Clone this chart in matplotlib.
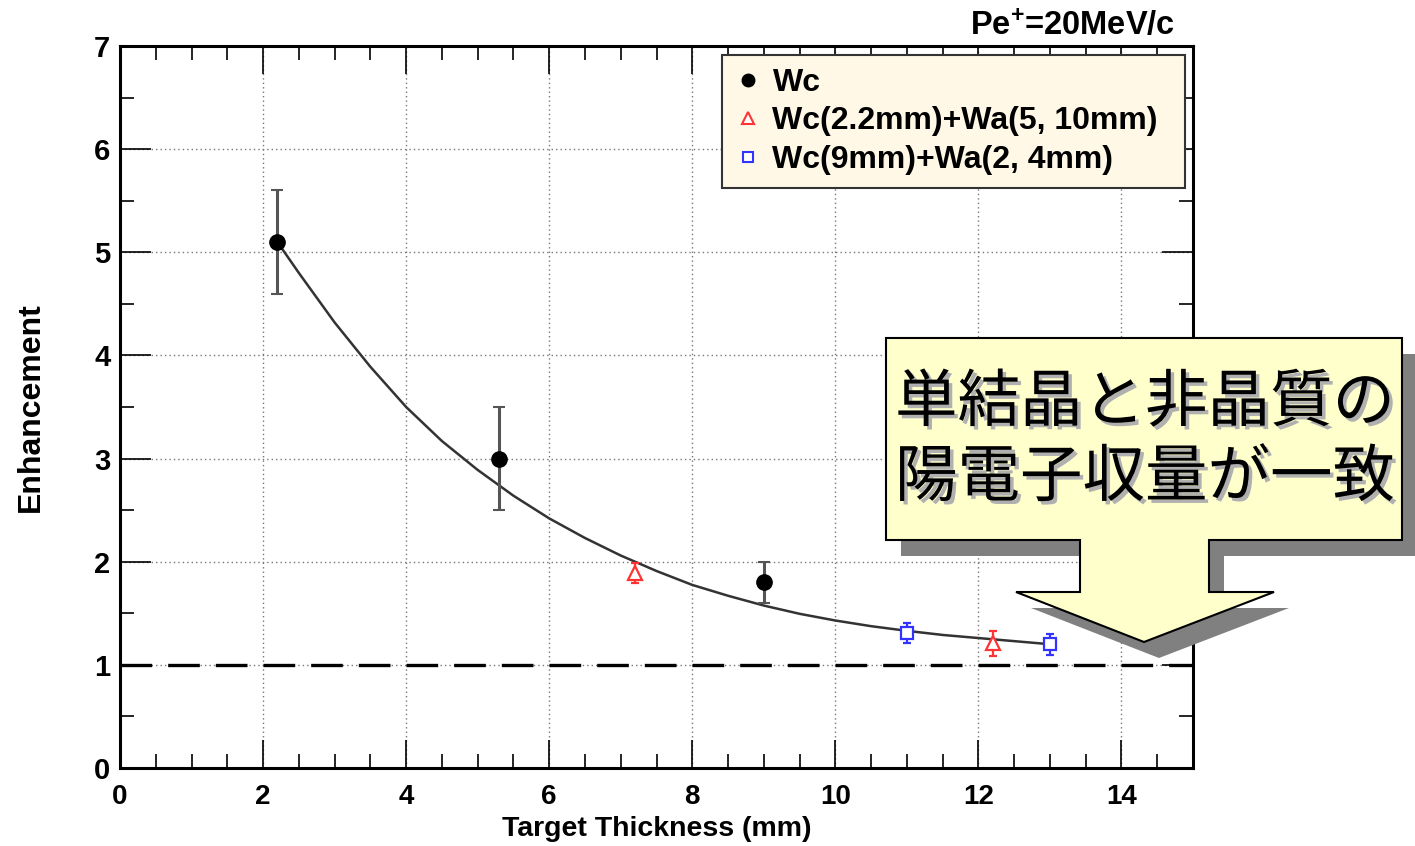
import matplotlib
matplotlib.use("Agg")
import matplotlib.pyplot as plt
from matplotlib.patches import Polygon
from matplotlib.lines import Line2D
from matplotlib.ticker import MultipleLocator
from matplotlib.font_manager import FontProperties
import matplotlib.patheffects as pe

plt.rcParams["mathtext.fontset"] = "custom"
plt.rcParams["mathtext.rm"] = "Liberation Sans:bold"
plt.rcParams["mathtext.bf"] = "Liberation Sans:bold"
plt.rcParams["mathtext.it"] = "Liberation Sans:bold"

# ---------------- data ----------------
wc_x = [2.2, 5.3, 9.0]
wc_y = [5.1, 3.0, 1.8]
wc_err = [0.5, 0.5, 0.2]

wca_x = [7.2, 12.2]
wca_y = [1.89, 1.21]
wca_err = [0.1, 0.12]

wc9_x = [11.0, 13.0]
wc9_y = [1.31, 1.20]
wc9_err = [0.1, 0.1]

fit_x = [2.2, 2.5, 3.0, 3.5, 4.0, 4.5, 5.0, 5.5, 6.0, 6.5, 7.0, 7.5, 8.0, 8.5,
         9.0, 9.5, 10.0, 10.5, 11.0, 11.5, 12.0, 12.5, 13.0]
fit_y = [5.10, 4.80, 4.32, 3.89, 3.50, 3.17, 2.89, 2.64, 2.42, 2.23, 2.06, 1.91,
         1.775, 1.67, 1.575, 1.495, 1.43, 1.375, 1.33, 1.29, 1.26, 1.23, 1.20]

labels = ["Wc", "Wc(2.2mm)+Wa(5, 10mm)", "Wc(9mm)+Wa(2, 4mm)"]
ref_level = 1.0
x_label = "Target Thickness (mm)"
y_label = "Enhancement"
corner_text = "Pe$^{+}$=20MeV/c"
callout_lines = ["単結晶と非晶質の", "陽電子収量が一致"]

# ---------------- figure ----------------
W, H = 1415, 846
fig = plt.figure(figsize=(W / 100, H / 100), dpi=100)
fig.patch.set_facecolor("white")

def fx(px):
    return px / W

def fy(py):
    return 1 - py / H

ax = fig.add_axes([fx(120), fy(768), fx(1193) - fx(120), fy(46) - fy(768)])
ax.set_xlim(0, 15)
ax.set_ylim(0, 7)

bold = dict(family="Liberation Sans", weight="bold")

ax.xaxis.set_major_locator(MultipleLocator(2))
ax.xaxis.set_minor_locator(MultipleLocator(0.5))
ax.yaxis.set_major_locator(MultipleLocator(1))
ax.yaxis.set_minor_locator(MultipleLocator(0.5))
ax.grid(True, which="major", color="#777777", linestyle=(0, (1, 2.2)), linewidth=1.0)
ax.set_axisbelow(True)

ax.tick_params(which="both", direction="in", top=True, right=True, color="black")
ax.tick_params(which="major", length=20, width=1.2)
ax.tick_params(which="minor", length=10, width=1.2)
ax.tick_params(axis="y", which="major", length=22, pad=7)
ax.tick_params(axis="x", which="major", pad=11.8)
for s in ax.spines.values():
    s.set_linewidth(2.2)

xtickfont = FontProperties(**bold, size=20)
ytickfont = FontProperties(**bold, size=21)
for lab in ax.get_xticklabels():
    lab.set_fontproperties(xtickfont)
for lab in ax.get_yticklabels():
    lab.set_fontproperties(ytickfont)

ax.set_xlabel(x_label, fontsize=20.5, **bold)
ax.xaxis.set_label_coords(0.5, -0.0658)
ax.set_ylabel(y_label, fontsize=23, **bold)
ax.yaxis.set_label_coords(-0.069, 0.5)

# reference line
ax.axhline(ref_level, color="black", linewidth=2.4, linestyle=(0, (9.5, 4.8)), zorder=2)

# fit curve
ax.plot(fit_x, fit_y, color="#333333", linewidth=1.8, zorder=3,
        solid_joinstyle="round")

# data
ax.errorbar(wc_x, wc_y, yerr=wc_err, fmt="o", color="black", ecolor="#555555",
            elinewidth=2.2, capsize=4, capthick=1.5, markersize=11, zorder=4)
ax.errorbar(wca_x, wca_y, yerr=wca_err, fmt="^", color="#ff3333", mfc="white",
            mec="#ff3333", ecolor="#ff3333", elinewidth=1.6, capsize=3,
            markersize=10, markeredgewidth=1.6, zorder=4)
ax.errorbar(wc9_x, wc9_y, yerr=wc9_err, fmt="s", color="#3333ff", mfc="white",
            mec="#3333ff", ecolor="#3333ff", elinewidth=1.6, capsize=3,
            markersize=8, markeredgewidth=1.6, zorder=4)

handles = [
    Line2D([], [], linestyle="none", marker="o", color="black", markersize=9),
    Line2D([], [], linestyle="none", marker="^", mfc="white", mec="#ff3333",
           markersize=8, markeredgewidth=1.5),
    Line2D([], [], linestyle="none", marker="s", mfc="white", mec="#3333ff",
           markersize=6.5, markeredgewidth=1.5),
]
leg = ax.legend(handles, labels, loc="upper left",
                bbox_to_anchor=(fx(722), fy(188), fx(1185) - fx(722), fy(55) - fy(188)),
                bbox_transform=fig.transFigure, mode="expand", frameon=True,
                fancybox=False, prop=FontProperties(**bold, size=23),
                handlelength=0.8, handletextpad=0.38, borderpad=0.4,
                labelspacing=0.27, borderaxespad=0)
frame = leg.get_frame()
frame.set_facecolor("#fff8e6")
frame.set_edgecolor("#333333")
frame.set_linewidth(1.5)
frame.set_alpha(1)

# corner label
fig.text(fx(1175), fy(26), corner_text, ha="right", va="center", fontsize=23.5, **bold)

# ---------------- callout ----------------
def poly_px(points, dx=0, dy=0):
    return [(fx(x + dx), fy(y + dy)) for x, y in points]

shape = [(886, 338), (1402, 338), (1402, 540), (1209, 540), (1209, 592),
         (1274, 592), (1144, 642), (1016, 592), (1080, 592), (1080, 540),
         (886, 540)]
shadow = Polygon(poly_px(shape, 15, 16), closed=True, transform=fig.transFigure,
                 facecolor="#808080", edgecolor="none", zorder=10)
fig.patches.append(shadow)
body = Polygon(poly_px(shape), closed=True, transform=fig.transFigure,
               facecolor="#ffffcc", edgecolor="black", linewidth=1.5, zorder=11)
fig.patches.append(body)

line_y = [403, 478]
for txt, yy in zip(callout_lines, line_y):
    fig.text(fx(1145), fy(yy), txt, ha="center", va="center", color="black",
             family=["Noto Sans CJK JP", "DejaVu Sans"], fontsize=45, zorder=12,
             path_effects=[pe.withSimplePatchShadow(offset=(2.5, -2.5),
                                                    shadow_rgbFace="#b0b0b0",
                                                    alpha=1.0)])

fig.savefig("out.png", dpi=100)
